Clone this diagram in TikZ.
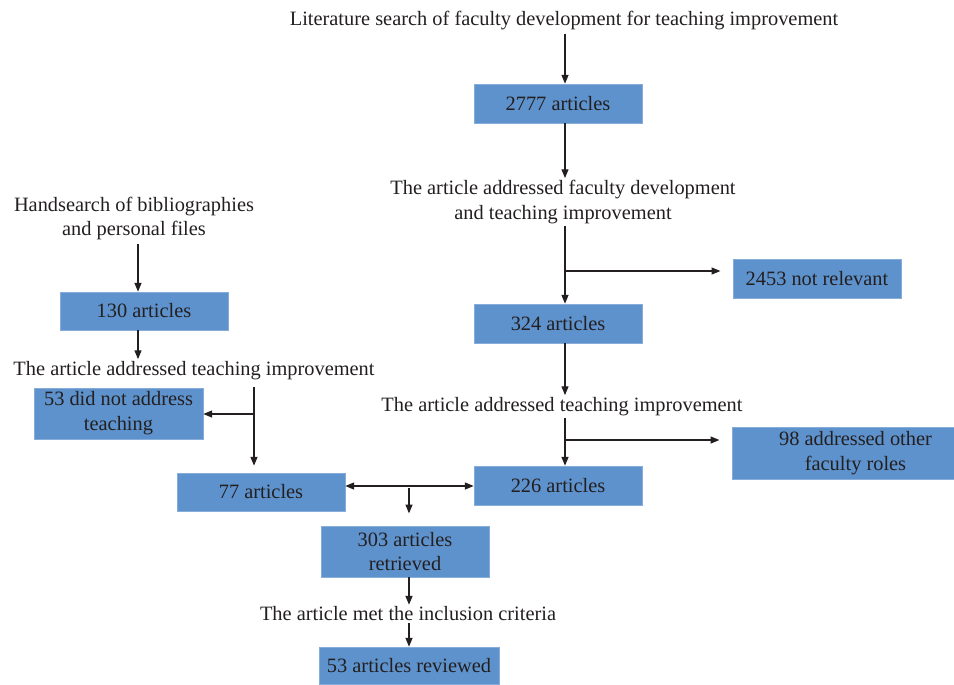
\documentclass[tikz,border=0pt]{standalone}
\usepackage{fontspec}
\setmainfont{Liberation Serif}
\usetikzlibrary{arrows.meta}
\definecolor{boxblue}{HTML}{5E92CC}
\definecolor{inkgrey}{HTML}{231F20}

\begin{document}
\begin{tikzpicture}[x=0.02cm,y=-0.02cm,
  font=\fontsize{11.6}{14.2}\selectfont,
  >={Triangle[length=5pt,width=4pt]},
  every node/.style={align=center,text=inkgrey},
  stagebox/.style={fill=boxblue,draw=boxblue!75!white,line width=0.4pt,inner sep=1pt,
    minimum width=3.36cm,minimum height=0.78cm},
  question/.style={inner sep=1pt},
  flow/.style={draw=inkgrey,line width=0.6pt,->}]

\useasboundingbox (0,0) rectangle (954,684);

%database search column
  \node[question] (litsearch) at (564,20.5) {Literature search of faculty development for teaching improvement};
  \node[stagebox] (art2777) at (558,103.5) {2777 articles};
  \node[question] (qfaculty) at (563,202) {The article addressed faculty development\\and teaching improvement};
  \node[stagebox] (notrel) at (817,278.5) {2453 not relevant};
  \node[stagebox] (art324) at (558,323.5) {324 articles};
  \node[question] (qteachr) at (562,406.5) {The article addressed teaching improvement};
  \node[stagebox,minimum width=4.44cm,minimum height=1.04cm] (otherroles) at (843,453) {\hspace*{0.5cm}98 addressed other\\\hspace*{0.5cm}faculty roles};
  \node[stagebox] (art226) at (558,485.5) {226 articles};

%handsearch column
  \node[question] (handsearch) at (134,218.5) {Handsearch of bibliographies\\and personal files};
  \node[stagebox,minimum height=0.76cm] (art130) at (144,311) {130 articles};
  \node[question] (qteachl) at (194,370.5) {The article addressed teaching improvement};
  \node[stagebox,minimum width=3.38cm,minimum height=1.02cm] (notteach) at (118.5,413.5) {53 did not address\\teaching};
  \node[stagebox,minimum height=0.76cm] (art77) at (261,492) {77 articles};

%merged
  \node[stagebox,minimum height=1.02cm] (retrieved) at (405,551.5) {303 articles\\retrieved};
  \node[question] (qcriteria) at (408,614) {The article met the inclusion criteria};
  \node[stagebox,minimum width=3.6cm,minimum height=0.74cm] (reviewed) at (409,665.5) {53 articles reviewed};

%connectors, right column
  \coordinate (colr) at (565,0);
  \draw[flow,shorten <=1pt] (litsearch.south -| colr) -- (art2777.north -| colr);
  \draw[flow] (art2777.south -| colr) -- (qfaculty.north -| colr);
  \draw[flow] (qfaculty.south -| colr) -- (art324.north -| colr);
  \coordinate (jrel) at (565,271);
  \draw[flow,shorten >=7pt] (jrel) -- (jrel -| notrel.west);
  \draw[flow] (art324.south -| colr) -- (qteachr.north -| colr);
  \draw[flow] (qteachr.south -| colr) -- (art226.north -| colr);
  \coordinate (jroles) at (565,440);
  \draw[flow,shorten >=7pt] (jroles) -- (jroles -| otherroles.west);

%connectors, left column
  \coordinate (coll) at (138,0);
  \draw[flow,shorten <=1pt] (handsearch.south -| coll) -- (art130.north -| coll);
  \draw[flow] (art130.south -| coll) -- (qteachl.north -| coll);
  \coordinate (colb) at (254,0);
  \draw[flow,shorten <=3pt,shorten >=4pt] (qteachl.south -| colb) -- (art77.north -| colb);
  \coordinate (jnot) at (254,414);
  \draw[flow] (jnot) -- (jnot -| notteach.east);

%merge and end
  \coordinate (jmerge) at (409,486);
  \draw[flow,<->] (art77.east |- jmerge) -- (art226.west |- jmerge);
  \draw[flow,shorten <=1pt,shorten >=7pt] (jmerge) -- (retrieved.north -| jmerge);
  \coordinate (colm) at (409,0);
  \draw[flow] (retrieved.south -| colm) -- (qcriteria.north -| colm);
  \draw[flow] (qcriteria.south -| colm) -- (reviewed.north -| colm);

\end{tikzpicture}
\end{document}
